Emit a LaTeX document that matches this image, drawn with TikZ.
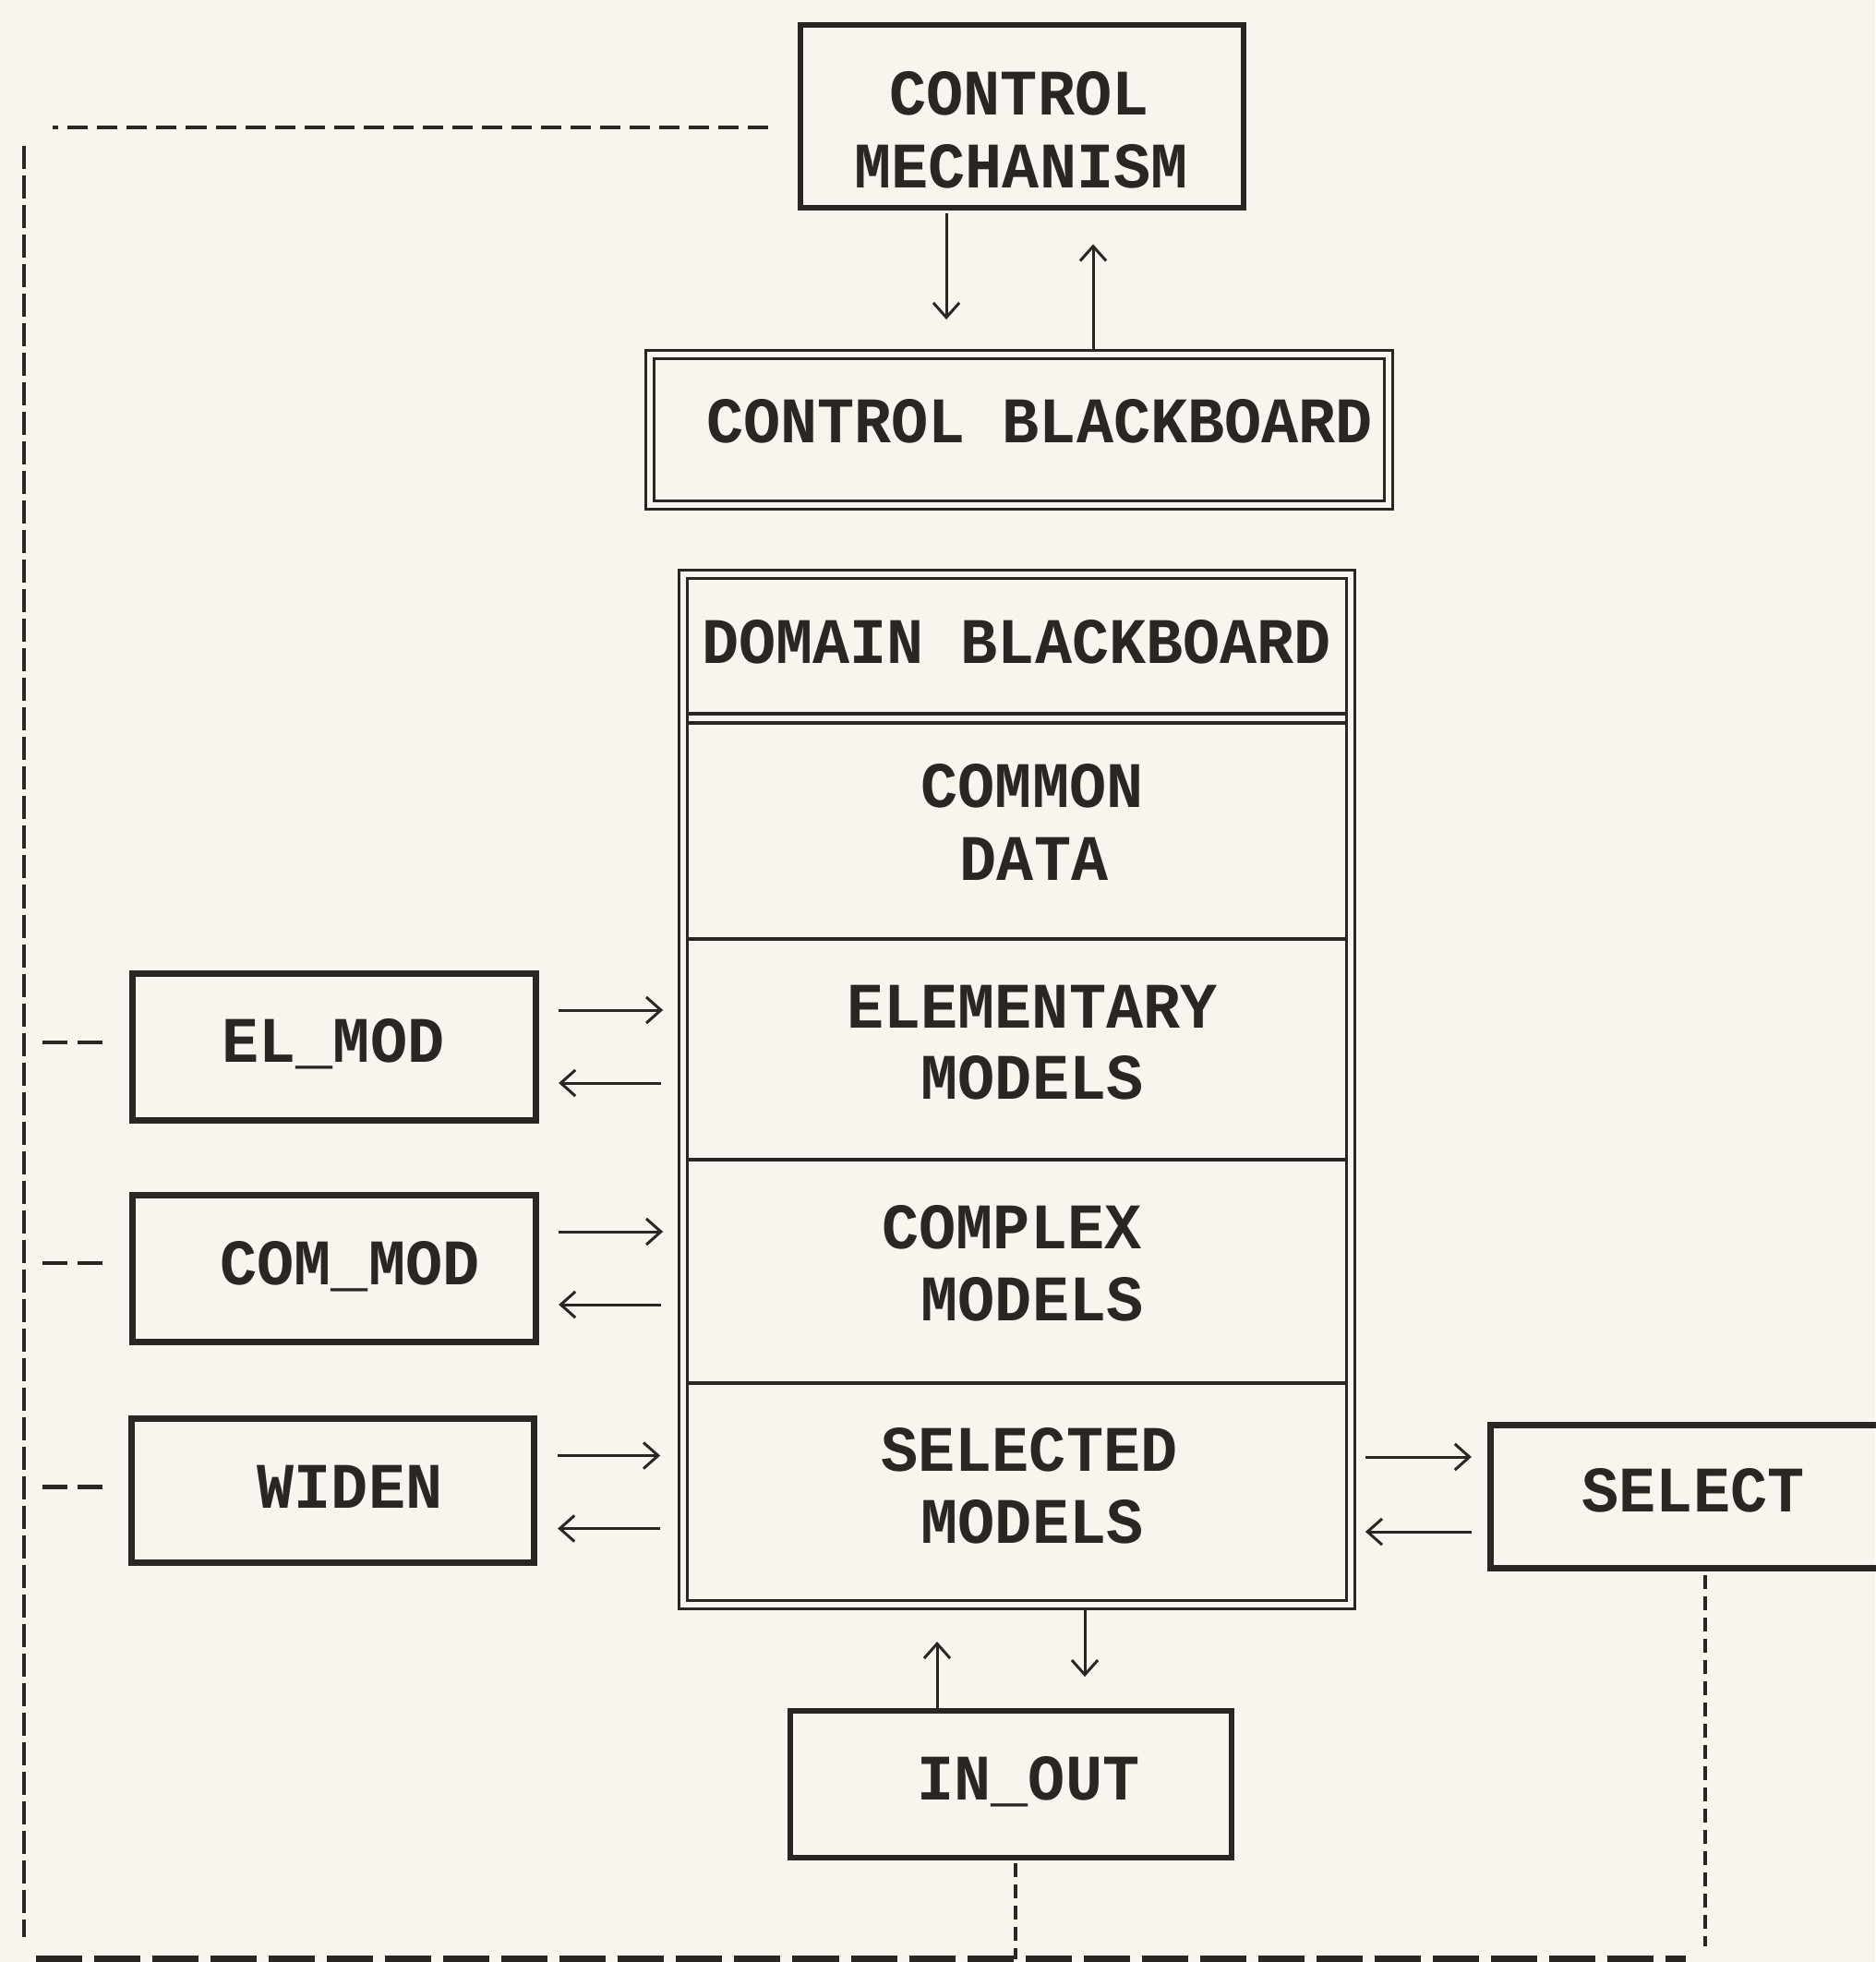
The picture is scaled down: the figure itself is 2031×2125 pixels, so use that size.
\documentclass[tikz,border=0pt]{standalone}
\usepackage{fontspec}
\newfontfamily\labfont[FakeStretch=0.95]{Liberation Mono}
\usetikzlibrary{arrows.meta,calc}
\definecolor{paper}{HTML}{F8F4EE}
\definecolor{ink}{HTML}{2A2624}
\tikzset{
  box/.style={draw=ink, line width=2pt, rectangle, inner sep=0pt},
  dbox/.style={draw=ink, double=paper, line width=0.85pt, double distance=1.7pt, rectangle, inner sep=0pt},
  area/.style={rectangle, inner sep=0pt},
  txt/.style={inner sep=0pt, anchor=center, text=ink, text height=0.42cm, text depth=0pt,
    font=\labfont\bfseries\fontsize{20}{24}\selectfont},
  arr/.style={draw=ink, line width=0.85pt, -{Straight Barb[length=4.5pt,width=8pt]}},
  sep/.style={draw=ink, line width=1pt},
  dtop/.style={draw=ink, line width=1.2pt, dash pattern=on 0.22cm off 0.1cm},
  dvert/.style={draw=ink, line width=1.3pt, dash pattern=on 0.25cm off 0.07cm},
  dshort/.style={draw=ink, line width=1.3pt, dash pattern=on 0.27cm off 0.11cm},
  dlink/.style={draw=ink, line width=1.2pt, dash pattern=on 0.15cm off 0.08cm},
  dbottom/.style={draw=ink, line width=2.3pt, dash pattern=on 0.5cm off 0.13cm},
}
\begin{document}
\begin{tikzpicture}[x=0.01cm, y=-0.01cm]
\useasboundingbox (0,0) rectangle (2031,2125);
\fill[paper] (0,0) rectangle (2031,2125);

% boxes
\node[box, line width=1.7pt, minimum width=4.80cm, minimum height=1.98cm] (cm) at (1107,126) {};
\node[dbox, minimum width=8.00cm, minimum height=1.63cm] (cb) at (1104,465.5) {};
\node[dbox, minimum width=7.22cm, minimum height=11.145cm] (db) at (1101.5,1180) {};
\node[area, minimum width=7.12cm, minimum height=1.43cm] (dbh) at (1101,700.5) {};
\node[area, minimum width=7.12cm, minimum height=2.32cm] (sc) at (1101,900) {};
\node[area, minimum width=7.12cm, minimum height=2.39cm] (se) at (1101,1135.5) {};
\node[area, minimum width=7.12cm, minimum height=2.42cm] (sx) at (1101,1376) {};
\node[area, minimum width=7.12cm, minimum height=2.35cm] (ss) at (1101,1614.5) {};
\draw[sep] (dbh.south west) -- (dbh.south east);
\draw[sep] (sc.north west) -- (sc.north east);
\draw[sep] (sc.south west) -- (sc.south east);
\draw[sep] (se.south west) -- (se.south east);
\draw[sep] (sx.south west) -- (sx.south east);

\node[box, minimum width=4.37cm, minimum height=1.59cm] (elm) at (362,1134) {};
\node[box, minimum width=4.37cm, minimum height=1.59cm] (com) at (362,1374) {};
\node[box, minimum width=4.36cm, minimum height=1.56cm] (wid) at (360.5,1614.5) {};
\node[box, minimum width=4.44cm, minimum height=1.55cm] (sel) at (1836.5,1621) {};
\node[box, line width=1.7pt, minimum width=4.78cm, minimum height=1.59cm] (io) at (1095,1932.5) {};

% texts
\node[txt] (cmt1) at (1104,103) {CONTROL};
\node[txt] (cmt2) at (1106,182) {MECHANISM};
\node[txt] (cbt) at (1126,458) {CONTROL BLACKBOARD};
\node[txt] (dbt) at (1101,697) {DOMAIN BLACKBOARD};
\node[txt] (cdt1) at (1118,853) {COMMON};
\node[txt] (cdt2) at (1120,932) {DATA};
\node[txt] (emt1) at (1118,1092) {ELEMENTARY};
\node[txt] (emt2) at (1118,1169) {MODELS};
\node[txt] (cxt1) at (1096,1331) {COMPLEX};
\node[txt] (cxt2) at (1118,1409) {MODELS};
\node[txt] (slt1) at (1115,1572) {SELECTED};
\node[txt] (slt2) at (1118,1650) {MODELS};
\node[txt] (elt) at (361,1129) {EL\_MOD};
\node[txt] (comt) at (379,1370) {COM\_MOD};
\node[txt] (widt) at (379,1612) {WIDEN};
\node[txt] (selt) at (1834,1616) {SELECT};
\node[txt] (iot) at (1114,1928) {IN\_OUT};

% arrows control
\draw[arr] ($(cm.south)+(-82,3)$) -- ($(cm.south)+(-82,118)$);
\draw[arr] ($(cb.north)+(80,-1)$) -- ($(cb.north)+(80,-118)$);

% arrows left boxes
\draw[arr] ($(elm.east)+(21,-40)$) -- ($(se.west |- elm.east)+(-26,-40)$);
\draw[arr] ($(se.west |- elm.east)+(-28,39)$) -- ($(elm.east)+(21,39)$);
\draw[arr] ($(com.east)+(21,-40)$) -- ($(sx.west |- com.east)+(-26,-40)$);
\draw[arr] ($(sx.west |- com.east)+(-28,39)$) -- ($(com.east)+(21,39)$);
\draw[arr] ($(wid.east)+(22,-38)$) -- ($(ss.west |- wid.east)+(-29,-38)$);
\draw[arr] ($(ss.west |- wid.east)+(-29,41)$) -- ($(wid.east)+(22,41)$);

% arrows select
\draw[arr] ($(ss.east |- sel.west)+(21,-43)$) -- ($(sel.west)+(-17,-43)$);
\draw[arr] ($(sel.west)+(-17,38)$) -- ($(ss.east |- sel.west)+(21,38)$);

% arrows in_out
\draw[arr] ($(io.north)+(-80,0)$) -- ($(io.north)+(-80,-72)$);
\draw[arr] ($(db.south)+(73.5,3)$) -- ($(db.south)+(73.5,77)$);

% dashed feedback lines
\coordinate (tl) at (57,138);
\coordinate (lv1) at (26,158);
\coordinate (lv2) at (26,2098);
\coordinate (bl) at (39,2122);
\coordinate (br) at (1826,2122);
\coordinate (bj) at (1100,2122);
\coordinate (sb) at (1847,2108);
\draw[dtop] ($(cm.west)+(-32,12)$) -- (tl);
\draw[dvert] (lv1) -- (lv2);
\draw[dshort] ($(elm.west)+(-94,-5)$) -- ($(elm.west)+(-28,-5)$);
\draw[dshort] ($(com.west)+(-94,-6)$) -- ($(com.west)+(-28,-6)$);
\draw[dshort] ($(wid.west)+(-93,-4)$) -- ($(wid.west)+(-27,-4)$);
\draw[dlink] ($(io.south)+(5,3)$) -- (bj);
\draw[dlink] ($(sel.south)+(10.5,4)$) -- (sb);
\draw[dbottom] (bl) -- (br);
\end{tikzpicture}
\end{document}
